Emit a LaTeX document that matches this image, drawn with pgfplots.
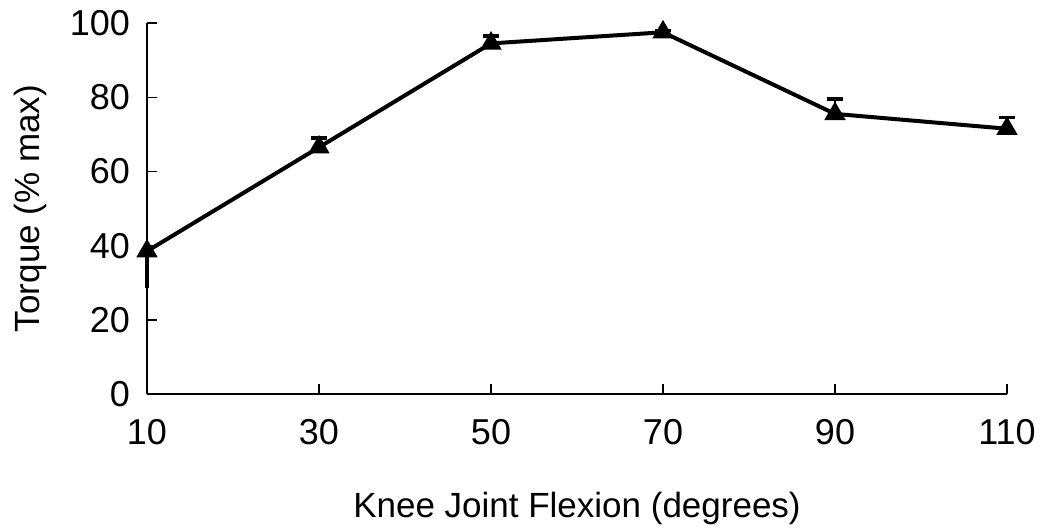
\documentclass[border=0pt]{standalone}
\usepackage{pgfplots}
\pgfplotsset{compat=1.18}
\usepackage{fontspec}
\setmainfont{Liberation Sans}
\begin{document}
\begin{tikzpicture}
\begin{axis}[
  scale only axis,
  width=430pt, height=185.5pt,
  xmin=10, xmax=110, ymin=0, ymax=100,
  xtick={10,30,50,70,90,110},
  ytick={0,20,40,60,80,100},
  axis x line*=bottom, axis y line*=left,
  axis line style={line width=1.3pt, -},
  tick style={line width=0.7pt, black},
  major tick length=5pt,
  xtick align=inside, ytick align=inside,
  /pgf/number format/assume math mode=true,
  ticklabel style={font=\fontsize{18}{21}\selectfont},
  xticklabel style={yshift=-9pt},
  yticklabel style={xshift=-5pt},
  xlabel={Knee Joint Flexion (degrees)},
  ylabel={Torque (\% max)},
  every axis x label/.style={at={(axis description cs:0.5,0)}, anchor=center, yshift=-57pt, font=\fontsize{17.5}{21}\selectfont},
  every axis y label/.style={at={(axis description cs:0,0.5)}, xshift=-58.5pt, anchor=center, rotate=90, font=\fontsize{17.5}{21}\selectfont},
  clip=false,
]
\addplot[black, line width=2pt, mark=triangle*, mark size=4.2pt,
  error bars/.cd, y dir=both, y explicit,
  error bar style={line width=1.2pt},
  error mark options={rotate=90, mark size=4pt, line width=1.8pt}]
coordinates {
  (10,38.5)
  (30,66.5) += (0,2.5)
  (50,94.5) += (0,2)
  (70,97.5) += (0,0.5)
  (90,75.5) += (0,4)
  (110,71.5) += (0,3)
};
\addplot[forget plot, black, line width=0pt, mark=none,
  error bars/.cd, y dir=minus, y explicit, error mark=none,
  error bar style={line width=2.2pt, black}]
coordinates {(10,38.5) -= (0,10)};
\coordinate (sw) at (rel axis cs:0,0);
\coordinate (ne) at (rel axis cs:1,1);
\end{axis}
\pgfresetboundingbox
\path ([xshift=-73.5pt, yshift=-66.5pt]sw) rectangle ([xshift=17.5pt, yshift=11.5pt]ne);
\end{tikzpicture}
\end{document}
